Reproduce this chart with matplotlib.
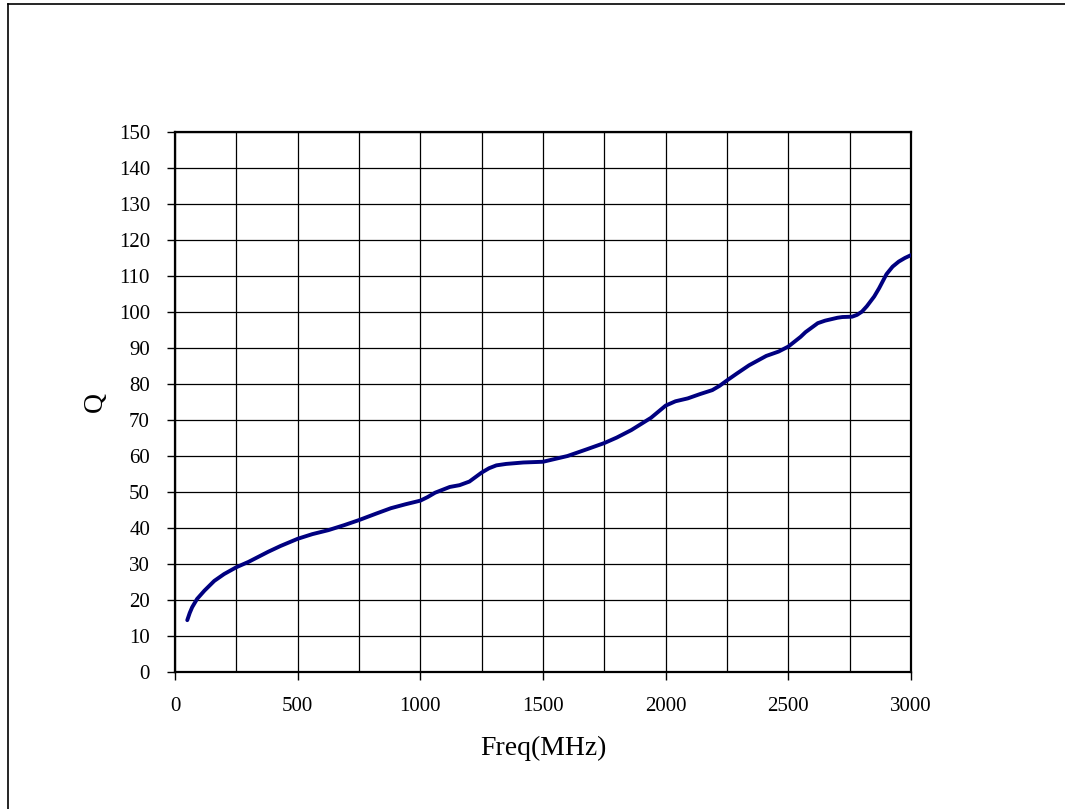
import matplotlib
matplotlib.use("Agg")
import matplotlib.pyplot as plt
from matplotlib.lines import Line2D

# Q vs frequency
freq = [50, 60, 70, 90, 120, 160, 200, 250, 300, 380, 430, 500, 560, 625,
        690, 750, 820, 880, 940, 1000, 1030, 1060, 1120, 1160, 1200, 1230,
        1250, 1280, 1310, 1350, 1420, 1500, 1600, 1680, 1750, 1800, 1860,
        1900, 1940, 2000, 2040, 2090, 2140, 2190, 2220, 2250, 2290, 2340,
        2410, 2460, 2500, 2550, 2570, 2600, 2620, 2650, 2700, 2720, 2760,
        2780, 2800, 2820, 2850, 2870, 2900, 2925, 2950, 2975, 3000]
q = [14.4, 16.4, 18.0, 20.3, 22.6, 25.3, 27.2, 29.1, 30.6, 33.4, 35.0, 37.0,
     38.3, 39.4, 40.8, 42.2, 44.0, 45.5, 46.6, 47.6, 48.6, 49.8, 51.4, 51.9,
     52.9, 54.4, 55.4, 56.6, 57.4, 57.8, 58.2, 58.4, 60.0, 61.9, 63.6, 65.1,
     67.2, 68.9, 70.6, 74.0, 75.2, 76.0, 77.2, 78.3, 79.5, 81.0, 82.9, 85.2,
     87.8, 89.0, 90.4, 93.1, 94.4, 95.9, 96.9, 97.6, 98.4, 98.6, 98.7, 99.2,
     100.1, 101.6, 104.3, 106.6, 110.5, 112.6, 114.0, 115.0, 115.8]

plt.rcParams['font.family'] = ['Liberation Serif', 'DejaVu Serif']

fig = plt.figure(figsize=(10.65, 8.09), dpi=100)
ax = fig.add_axes([175 / 1065, 137 / 809, 736 / 1065, 540 / 809])

ax.plot(freq, q, '-', color='#000080', linewidth=2.8, solid_capstyle='round',
        solid_joinstyle='round', zorder=3)

ax.set_xlim(0, 3000)
ax.set_ylim(0, 150)
ax.set_xticks(range(0, 3001, 500))
ax.set_xticks(range(0, 3001, 250), minor=True)
ax.set_yticks(range(0, 151, 10))
ax.grid(which='both', color='black', linewidth=0.9)
ax.tick_params(which='major', direction='out', length=6, width=1,
               labelsize=15)
ax.tick_params(axis='x', which='major', pad=12)
ax.tick_params(axis='y', which='major', pad=12)
ax.tick_params(which='minor', length=0)
for s in ax.spines.values():
    s.set_linewidth(1.6)

ax.set_xlabel('Freq(MHz)', fontsize=20, labelpad=14)
ax.set_ylabel('Q', fontsize=20, labelpad=8)

# page frame (left and top edges only)
fig.add_artist(Line2D([8 / 1065, 8 / 1065], [0, 1 - 4 / 809], color='black',
                      linewidth=1.2))
fig.add_artist(Line2D([8 / 1065, 1], [1 - 4 / 809, 1 - 4 / 809],
                      color='black', linewidth=1.2))

fig.savefig('out.png', dpi=100)
